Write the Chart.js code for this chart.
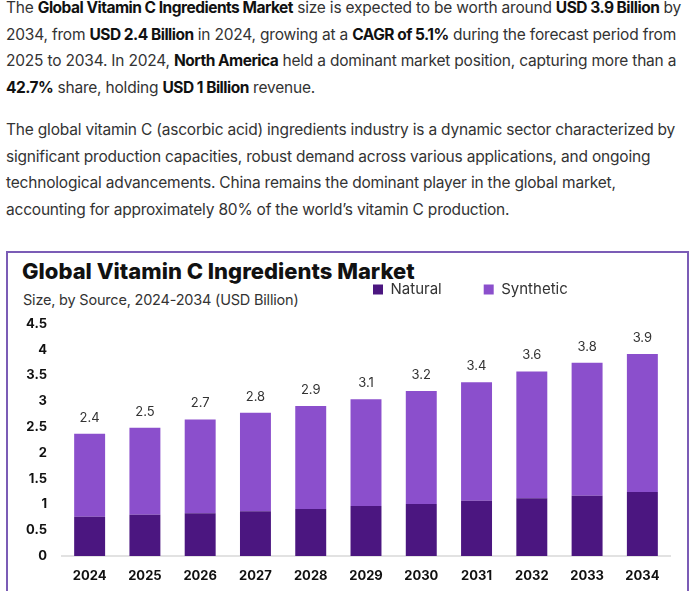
<!DOCTYPE html>
<html>
<head>
<meta charset="utf-8">
<script src="https://cdn.jsdelivr.net/npm/chart.js@4.4.1/dist/chart.umd.min.js"></script>
<style>
    html, body { margin: 0; background: #fff; width: 700px; height: 591px; overflow: hidden; }
    body { position: relative; font-family: Inter, "Open Sans", sans-serif; }
    .para { position: absolute; left: 6px; font-size: 15.5px; letter-spacing: -0.2px; line-height: 26.7px; color: #333; white-space: nowrap; }
    .para b { color: #111; font-weight: 700; letter-spacing: -0.5px; }
    #box { position: absolute; left: 6px; top: 251px; width: 683px; height: 400px; box-sizing: border-box; border: 2px solid #7b5cb6; }
    #title { position: absolute; left: 22px; top: 258px; font-size: 22px; font-weight: 800; color: #111; white-space: nowrap; }
    #subtitle { position: absolute; left: 23px; top: 291px; font-size: 14.5px; letter-spacing: -0.2px; color: #333; white-space: nowrap; }
    #wrap { position: absolute; left: 0; top: 251px; width: 700px; height: 340px; }
</style>
</head>
<body>
<div class="para" style="top:-5px">
The <b>Global Vitamin C Ingredients Market</b> size is expected to be worth around <b>USD 3.9 Billion</b> by<br>
2034, from <b>USD 2.4 Billion</b> in 2024, growing at a <b>CAGR of 5.1%</b> during the forecast period from<br>
2025 to 2034. In 2024, <b>North America</b> held a dominant market position, capturing more than a<br>
<b>42.7%</b> share, holding <b>USD 1 Billion</b> revenue.
</div>
<div class="para" style="top:117px">
The global vitamin C (ascorbic acid) ingredients industry is a dynamic sector characterized by<br>
significant production capacities, robust demand across various applications, and ongoing<br>
technological advancements. China remains the dominant player in the global market,<br>
accounting for approximately 80% of the world’s vitamin C production.
</div>
<div id="box"></div>
<div id="title">Global Vitamin C Ingredients Market</div>
<div id="subtitle">Size, by Source, 2024-2034 (USD Billion)</div>
<div id="wrap"><canvas id="marketChart"></canvas></div>

<script>
// ===== DATA =====
const years = ['2024', '2025', '2026', '2027', '2028', '2029', '2030', '2031', '2032', '2033', '2034'];
const naturalValues = [0.76, 0.80, 0.83, 0.87, 0.91, 0.97, 1.01, 1.07, 1.12, 1.17, 1.24];
const syntheticValues = [1.61, 1.69, 1.82, 1.91, 2.00, 2.07, 2.19, 2.30, 2.46, 2.58, 2.68];
const totalLabels = ['2.4', '2.5', '2.7', '2.8', '2.9', '3.1', '3.2', '3.4', '3.6', '3.8', '3.9'];
const yTickLabels = ['0', '0.5', '1', '1.5', '2', '2.5', '3', '3.5', '4', '4.5'];

const FONT = 'Inter, "Open Sans", sans-serif';

// put the legend where the original has it (between title and subtitle, right side)
const legendPlacer = {
    id: 'legendPlacer',
    afterLayout(chart) {
        const lg = chart.legend;
        const pad = lg.options.labels.padding;
        const dx = 373 - (lg.left + pad);
        const dy = 38.5 - (lg.top + pad + 7.5);
        lg.left += dx; lg.right += dx;
        lg.top += dy; lg.bottom += dy;
    }
};

// total value above each stacked bar
const totalLabelsPlugin = {
    id: 'totalLabels',
    afterDatasetsDraw(chart) {
        const ctx = chart.ctx;
        const meta = chart.getDatasetMeta(chart.data.datasets.length - 1);
        ctx.save();
        ctx.font = '13px ' + FONT;
        ctx.fillStyle = '#333';
        ctx.textAlign = 'center';
        ctx.textBaseline = 'alphabetic';
        meta.data.forEach((bar, i) => {
            ctx.fillText(totalLabels[i], bar.x, bar.y - 12);
        });
        ctx.restore();
    }
};

new Chart(document.getElementById('marketChart'), {
    type: 'bar',
    data: {
        labels: years,
        datasets: [{
            label: 'Natural',
            data: naturalValues,
            backgroundColor: '#4b1680',
            categoryPercentage: 0.8,
            barPercentage: 0.7
        }, {
            label: 'Synthetic',
            data: syntheticValues,
            backgroundColor: '#8b4fcc',
            categoryPercentage: 0.8,
            barPercentage: 0.7
        }]
    },
    options: {
        responsive: true,
        maintainAspectRatio: false,
        animation: false,
        layout: {
            padding: { left: 0, right: 30, top: 6, bottom: 0 }
        },
        plugins: {
            legend: {
                position: 'top',
                align: 'start',
                labels: {
                    boxWidth: 10,
                    boxHeight: 10,
                    padding: 42,
                    color: '#333',
                    font: { family: FONT, size: 15 }
                }
            },
            tooltip: { enabled: false }
        },
        scales: {
            x: {
                stacked: true,
                grid: { display: false, drawTicks: false },
                border: { color: '#e2e2e2', width: 2 },
                ticks: {
                    padding: 12,
                    color: '#111',
                    font: { family: FONT, size: 13, weight: 'bold' }
                },
                afterFit(scale) { scale.height = 35; }
            },
            y: {
                stacked: true,
                min: 0,
                max: 4.5,
                grid: { display: false, drawTicks: false },
                border: { display: false },
                ticks: {
                    stepSize: 0.5,
                    padding: 15,
                    color: '#111',
                    font: { family: FONT, size: 13, weight: 'bold' },
                    callback: (value, index) => yTickLabels[index]
                },
                afterFit(scale) { scale.width = 62; }
            }
        }
    },
    plugins: [legendPlacer, totalLabelsPlugin]
});
</script>
</body>
</html>
